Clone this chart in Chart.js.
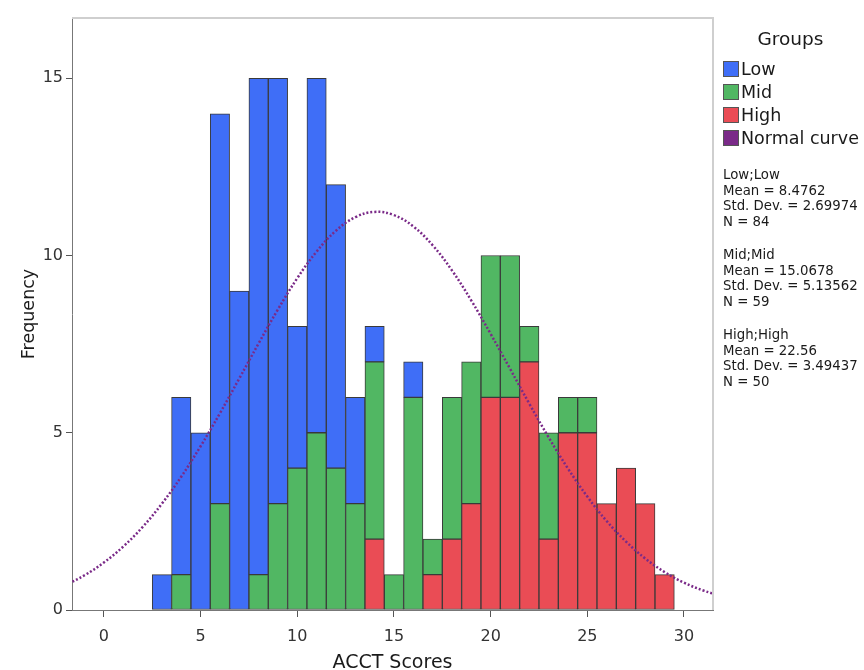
<!DOCTYPE html>
<html>
<head>
<meta charset="utf-8">
<script src="https://cdn.jsdelivr.net/npm/chart.js@4.4.1/dist/chart.umd.min.js"></script>
<style>
  body { margin: 0; background: #fff; }
  #wrap { position: relative; width: 864px; height: 670px; font-family: "DejaVu Sans", sans-serif; color: #1a1a1a; }
  #chart { position: absolute; left: 0; top: 0; }
  #side { position: absolute; left: 723px; top: 26px; width: 141px; }
  #side .title { text-align: center; font-size: 18.5px; line-height: 26px; padding-right: 6px; }
  #side .items { margin-top: 6px; }
  #side .item { font-size: 17.5px; line-height: 23px; white-space: nowrap; }
  #side .sw { display: inline-block; width: 14px; height: 14px; border: 1px solid #555; vertical-align: -2px; margin-right: 2px; }
  #side .stats { margin-top: 17px; font-size: 13.3px; line-height: 15.5px; }
  #side .block { margin-bottom: 18px; white-space: nowrap; }
</style>
</head>
<body>
<div id="wrap">
  <canvas id="chart" width="864" height="670"></canvas>
  <div id="side"></div>
</div>
<script>
// histogram bins (ACCT score), counts per group
const scores = [3, 4, 5, 6, 7, 8, 9, 10, 11, 12, 13, 14, 15, 16, 17, 18, 19, 20, 21, 22, 23, 24, 25, 26, 27, 28, 29];
const lowCounts  = [1, 5, 5, 11, 9, 14, 12, 4, 10, 8, 3, 1, 0, 1, 0, 0, 0, 0, 0, 0, 0, 0, 0, 0, 0, 0, 0];
const midCounts  = [0, 1, 0, 3, 0, 1, 3, 4, 5, 4, 3, 5, 1, 6, 1, 4, 4, 4, 4, 1, 3, 1, 1, 0, 0, 0, 0];
const highCounts = [0, 0, 0, 0, 0, 0, 0, 0, 0, 0, 0, 2, 0, 0, 1, 2, 3, 6, 6, 7, 2, 5, 5, 3, 4, 3, 1];

// normal curve
const curveX = [-2, -1, 0, 1, 2, 3, 4, 5, 6, 7, 8, 9, 10, 11, 12, 13, 14, 15, 16, 17, 18, 19, 20, 21, 22, 23, 24, 25, 26, 27, 28, 29, 30, 31, 32];
const curveY = [0.70, 0.98, 1.34, 1.79, 2.34, 3.00, 3.76, 4.62, 5.55, 6.53, 7.52, 8.48, 9.36, 10.11, 10.70, 11.08, 11.23, 11.14, 10.82, 10.29, 9.58, 8.73, 7.79, 6.81, 5.82, 4.87, 3.99, 3.20, 2.51, 1.93, 1.45, 1.07, 0.77, 0.55, 0.38];

// axis ticks
const xTicks = [0, 5, 10, 15, 20, 25, 30];
const yTicks = [0, 5, 10, 15];

// legend + summary text
const groupNames = ["Low", "Mid", "High"];
const groupMeans = ["8.4762", "15.0678", "22.56"];
const groupSDs = ["2.69974", "5.13562", "3.49437"];
const groupNs = [84, 59, 50];

const colors = { Low: "#3f6ef7", Mid: "#51b763", High: "#ea4c55", curve: "#7a2a88" };

const toPts = arr => scores.map((s, i) => ({ x: s, y: arr[i] || null }));

const barStyle = {
  type: "bar",
  borderColor: "#3a3a3a",
  borderWidth: 1,
  borderSkipped: false,
  barPercentage: 1,
  categoryPercentage: 1,
  stack: "groups",
  order: 1
};

// light frame on top and right side of the plot
const frame = {
  id: "frame",
  afterDatasetsDraw(chart) {
    const { ctx, chartArea: a } = chart;
    ctx.save();
    ctx.strokeStyle = "#cfcfcf";
    ctx.lineWidth = 2;
    ctx.beginPath();
    ctx.moveTo(a.left, a.top);
    ctx.lineTo(a.right, a.top);
    ctx.lineTo(a.right, a.bottom);
    ctx.stroke();
    ctx.restore();
  }
};

Chart.defaults.font.family = '"DejaVu Sans", sans-serif';
Chart.defaults.color = "#222";

new Chart(document.getElementById("chart"), {
  data: {
    datasets: [
      { ...barStyle, label: "High", data: toPts(highCounts), backgroundColor: colors.High },
      { ...barStyle, label: "Mid", data: toPts(midCounts), backgroundColor: colors.Mid },
      { ...barStyle, label: "Low", data: toPts(lowCounts), backgroundColor: colors.Low },
      {
        type: "line",
        label: "Normal curve",
        data: curveX.map((x, i) => ({ x, y: curveY[i] })),
        borderColor: colors.curve,
        borderWidth: 2.5,
        borderDash: [2, 2],
        pointRadius: 0,
        tension: 0.4,
        fill: false,
        stack: "curve",
        order: 0
      }
    ]
  },
  options: {
    responsive: false,
    animation: false,
    layout: { padding: { top: 18, right: 151, left: 0, bottom: 0 } },
    plugins: { legend: { display: false }, tooltip: { enabled: false } },
    scales: {
      x: {
        type: "linear",
        min: -1.65,
        max: 31.5,
        stacked: true,
        offset: false,
        grid: { offset: false, drawOnChartArea: false, tickLength: 7, color: "#555" },
        border: { color: "#777", width: 1 },
        afterBuildTicks: s => { s.ticks = xTicks.map(v => ({ value: v })); },
        ticks: { font: { size: 16 }, color: "#333", padding: 10, maxRotation: 0, autoSkip: false },
        title: { display: true, text: "ACCT Scores", font: { size: 19 }, color: "#1a1a1a", padding: { top: 6, bottom: -4 } },
        afterFit: s => { s.height = 60; }
      },
      y: {
        min: 0,
        max: 16.7,
        stacked: true,
        grid: { drawOnChartArea: false, tickLength: 6, color: "#555" },
        border: { color: "#777", width: 1 },
        afterBuildTicks: s => { s.ticks = yTicks.map(v => ({ value: v })); },
        ticks: { font: { size: 16 }, color: "#333", padding: 3 },
        title: { display: true, text: "Frequency", font: { size: 17.5 }, color: "#1a1a1a", padding: { top: 19, bottom: 0 } },
        afterFit: s => { s.width = 72; }
      }
    }
  },
  plugins: [frame]
});

// side legend
const side = document.getElementById("side");
let html = '<div class="title">Groups</div><div class="items">';
groupNames.forEach(g => {
  html += `<div class="item"><span class="sw" style="background:${colors[g]}"></span>${g}</div>`;
});
html += `<div class="item"><span class="sw" style="background:${colors.curve}"></span>Normal curve</div></div><div class="stats">`;
groupNames.forEach((g, i) => {
  html += `<div class="block">${g};${g}<br>Mean = ${groupMeans[i]}<br>Std. Dev. = ${groupSDs[i]}<br>N = ${groupNs[i]}</div>`;
});
html += "</div>";
side.innerHTML = html;
</script>
</body>
</html>
